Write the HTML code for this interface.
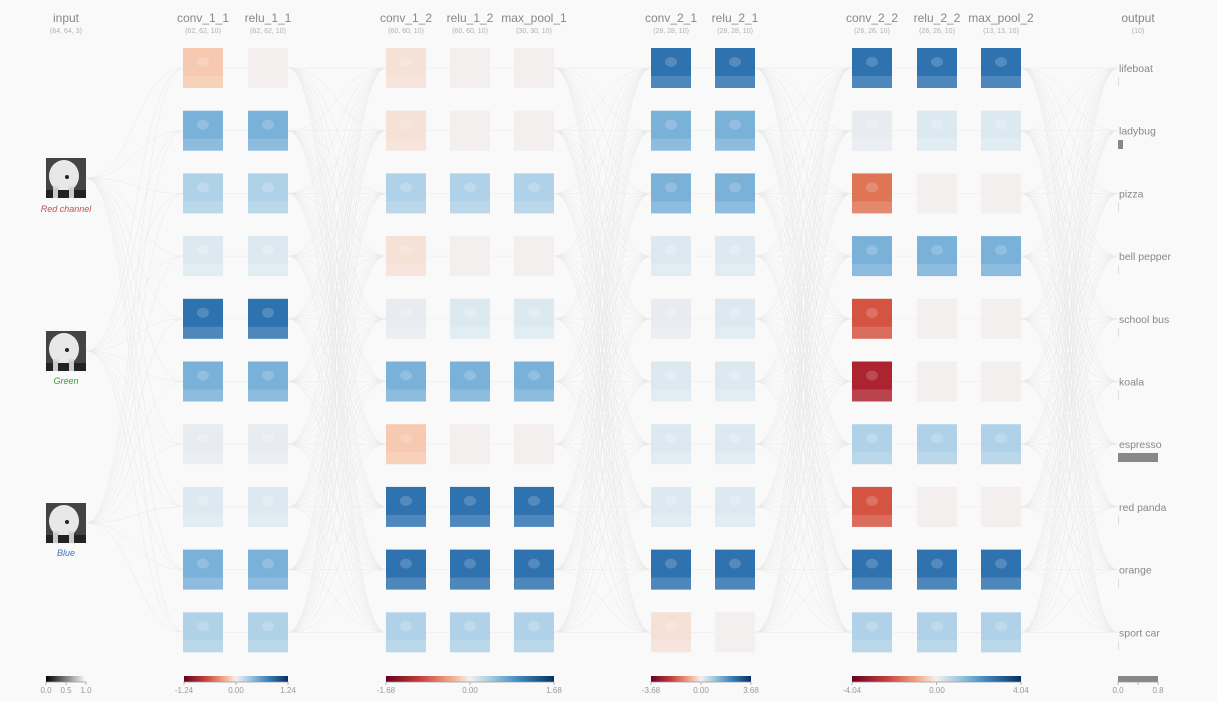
<!DOCTYPE html>
<html><head><meta charset="utf-8">
<style>
html,body{margin:0;padding:0;background:#fff;}
body{width:1217px;height:718px;overflow:hidden;font-family:"Liberation Sans",sans-serif;}
#bg{position:absolute;left:0;top:0;width:1217px;height:701px;background:#f9f9f9;}
svg{position:absolute;left:0;top:0;}
</style></head><body>
<div id="bg"></div>
<svg id="s" width="1217" height="718" xmlns="http://www.w3.org/2000/svg">
<defs>
<linearGradient id="rb" x1="0" x2="1"><stop offset="0" stop-color="#67001f"/><stop offset="0.2" stop-color="#c43c3c"/><stop offset="0.38" stop-color="#f4a582"/><stop offset="0.5" stop-color="#f4efee"/><stop offset="0.62" stop-color="#a6cde3"/><stop offset="0.8" stop-color="#3a84bd"/><stop offset="1" stop-color="#053061"/></linearGradient>
<linearGradient id="gr" x1="0" x2="1"><stop offset="0" stop-color="#000"/><stop offset="1" stop-color="#fff"/></linearGradient>
</defs>
<g id="edges" fill="none" stroke="#e9e9e9" stroke-width="0.5"></g>
<g id="nodes"></g>
<g id="txt" font-family="Liberation Sans, sans-serif"></g>
</svg>
<script>
const NS="http://www.w3.org/2000/svg";
const E=document.getElementById('edges'),N=document.getElementById('nodes'),T=document.getElementById('txt');
function el(p,tag,a,t){const e=document.createElementNS(NS,tag);for(const k in a)e.setAttribute(k,a[k]);if(t!==undefined)e.textContent=t;p.appendChild(e);return e;}
const X=[66,203,268,406,470,534,671,735,872,937,1001,1118];
const rowsY=[];for(let i=0;i<10;i++)rowsY.push(48+i*62.7);
const inY=[158,331,503];
function curve(x1,y1,x2,y2){const m=(x1+x2)/2;el(E,'path',{d:`M${x1},${y1} C${m},${y1} ${m},${y2} ${x2},${y2}`});}
inY.forEach(y=>rowsY.forEach(r=>curve(86,y+20,184,r+20)));
function all(xa,xb){rowsY.forEach(a=>rowsY.forEach(b=>curve(xa,a+20,xb,b+20)));}
function one(xa,xb){rowsY.forEach(a=>el(E,'line',{x1:xa,y1:a+20,x2:xb,y2:a+20}));}
one(223,248);all(288,386);one(426,450);one(490,514);all(554,651);one(691,715);all(755,852);one(892,917);one(957,981);
all(1021,1118);
const C={D:'#2f72b0',M:'#7ab1d9',L:'#b0d2e8',V:'#dde9f1',W:'#f2efee',O:'#f7c9b0',o:'#f6e1d7',R:'#e07556',r:'#d45441',K:'#ae2330',x:'#e8ecf1'};
const cols=[
 [1,'OMLVDMxVML'],[2,'WMLVDMxVML'],[3,'ooLoxMODDL'],[4,'WWLWVMWDDL'],[5,'WWLWVMWDDL'],
 [6,'DMMVxVVVDo'],[7,'DMMVVVVVDW'],[8,'DxRMrKLrDL'],[9,'DVWMWWLWDL'],[10,'DVWMWWLWDL']];
cols.forEach(([ci,s])=>{for(let i=0;i<10;i++){const x=X[ci]-20,y=rowsY[i];const c=C[s[i]];el(N,'rect',{x,y,width:40,height:40,fill:c});
 if(s[i]!=='W'){el(N,'rect',{x:x,y:y+28,width:40,height:12,fill:'#fff','fill-opacity':0.15});el(N,'ellipse',{cx:x+20,cy:y+14,rx:6,ry:5,fill:'#fff','fill-opacity':0.18});}}});
inY.forEach(y=>{el(N,'rect',{x:46,y,width:40,height:40,fill:'#444'});el(N,'ellipse',{cx:64,cy:y+18,rx:15,ry:16,fill:'#e8e8e8'});el(N,'rect',{x:53,y:y+28,width:6,height:12,fill:'#ddd'});el(N,'rect',{x:68,y:y+28,width:6,height:12,fill:'#ddd'});el(N,'rect',{x:46,y:y+32,width:40,height:8,fill:'#222'});el(N,'rect',{x:53,y:y+30,width:5,height:10,fill:'#ccc'});el(N,'rect',{x:69,y:y+30,width:5,height:10,fill:'#ccc'});el(N,'circle',{cx:67,cy:y+19,r:2,fill:'#222'});});
[['Red channel',212,'#c0504d'],['Green',384,'#3a9a3a'],['Blue',556,'#3a76c0']].forEach(([t,y,c])=>el(T,'text',{x:66,y,'font-size':9,'font-style':'italic','text-anchor':'middle',fill:c},t));
const H=[[66,'input','(64, 64, 3)'],[203,'conv_1_1','(62, 62, 10)'],[268,'relu_1_1','(62, 62, 10)'],[406,'conv_1_2','(60, 60, 10)'],[470,'relu_1_2','(60, 60, 10)'],[534,'max_pool_1','(30, 30, 10)'],[671,'conv_2_1','(28, 28, 10)'],[735,'relu_2_1','(28, 28, 10)'],[872,'conv_2_2','(26, 26, 10)'],[937,'relu_2_2','(26, 26, 10)'],[1001,'max_pool_2','(13, 13, 10)'],[1138,'output','(10)']];
H.forEach(([x,a,b])=>{el(T,'text',{x,y:22,'font-size':12,'text-anchor':'middle',fill:'#888'},a);el(T,'text',{x,y:33,'font-size':7,'text-anchor':'middle',fill:'#b0b0b0'},b);});
['lifeboat','ladybug','pizza','bell pepper','school bus','koala','espresso','red panda','orange','sport car'].forEach((t,i)=>{el(T,'text',{x:1119,y:rowsY[i]+24,'font-size':10.5,fill:'#888'},t);el(N,'rect',{x:1118,y:rowsY[i]+29,width:1,height:9,fill:'#ddd'});});
el(N,'rect',{x:1118,y:140,width:5,height:9,fill:'#888'});
el(N,'rect',{x:1118,y:453,width:40,height:9,fill:'#888'});
function leg(x1,x2,fill,labels){el(N,'rect',{x:x1,y:676,width:x2-x1,height:6,fill});el(N,'path',{d:`M${x1},685 V682 H${x2} V685 M${(x1+x2)/2},682 V685`,stroke:'#999','stroke-width':0.7,fill:'none'});
 labels.forEach(([x,t])=>el(T,'text',{x,y:693,'font-size':8,'text-anchor':'middle',fill:'#999'},t));}
leg(46,86,'url(#gr)',[[46,'0.0'],[66,'0.5'],[86,'1.0']]);
leg(184,288,'url(#rb)',[[184,'-1.24'],[236,'0.00'],[288,'1.24']]);
leg(386,554,'url(#rb)',[[386,'-1.68'],[470,'0.00'],[554,'1.68']]);
leg(651,751,'url(#rb)',[[651,'-3.68'],[701,'0.00'],[751,'3.68']]);
leg(852,1021,'url(#rb)',[[852,'-4.04'],[937,'0.00'],[1021,'4.04']]);
leg(1118,1158,'#888',[[1118,'0.0'],[1158,'0.8']]);
</script>
</body></html>
